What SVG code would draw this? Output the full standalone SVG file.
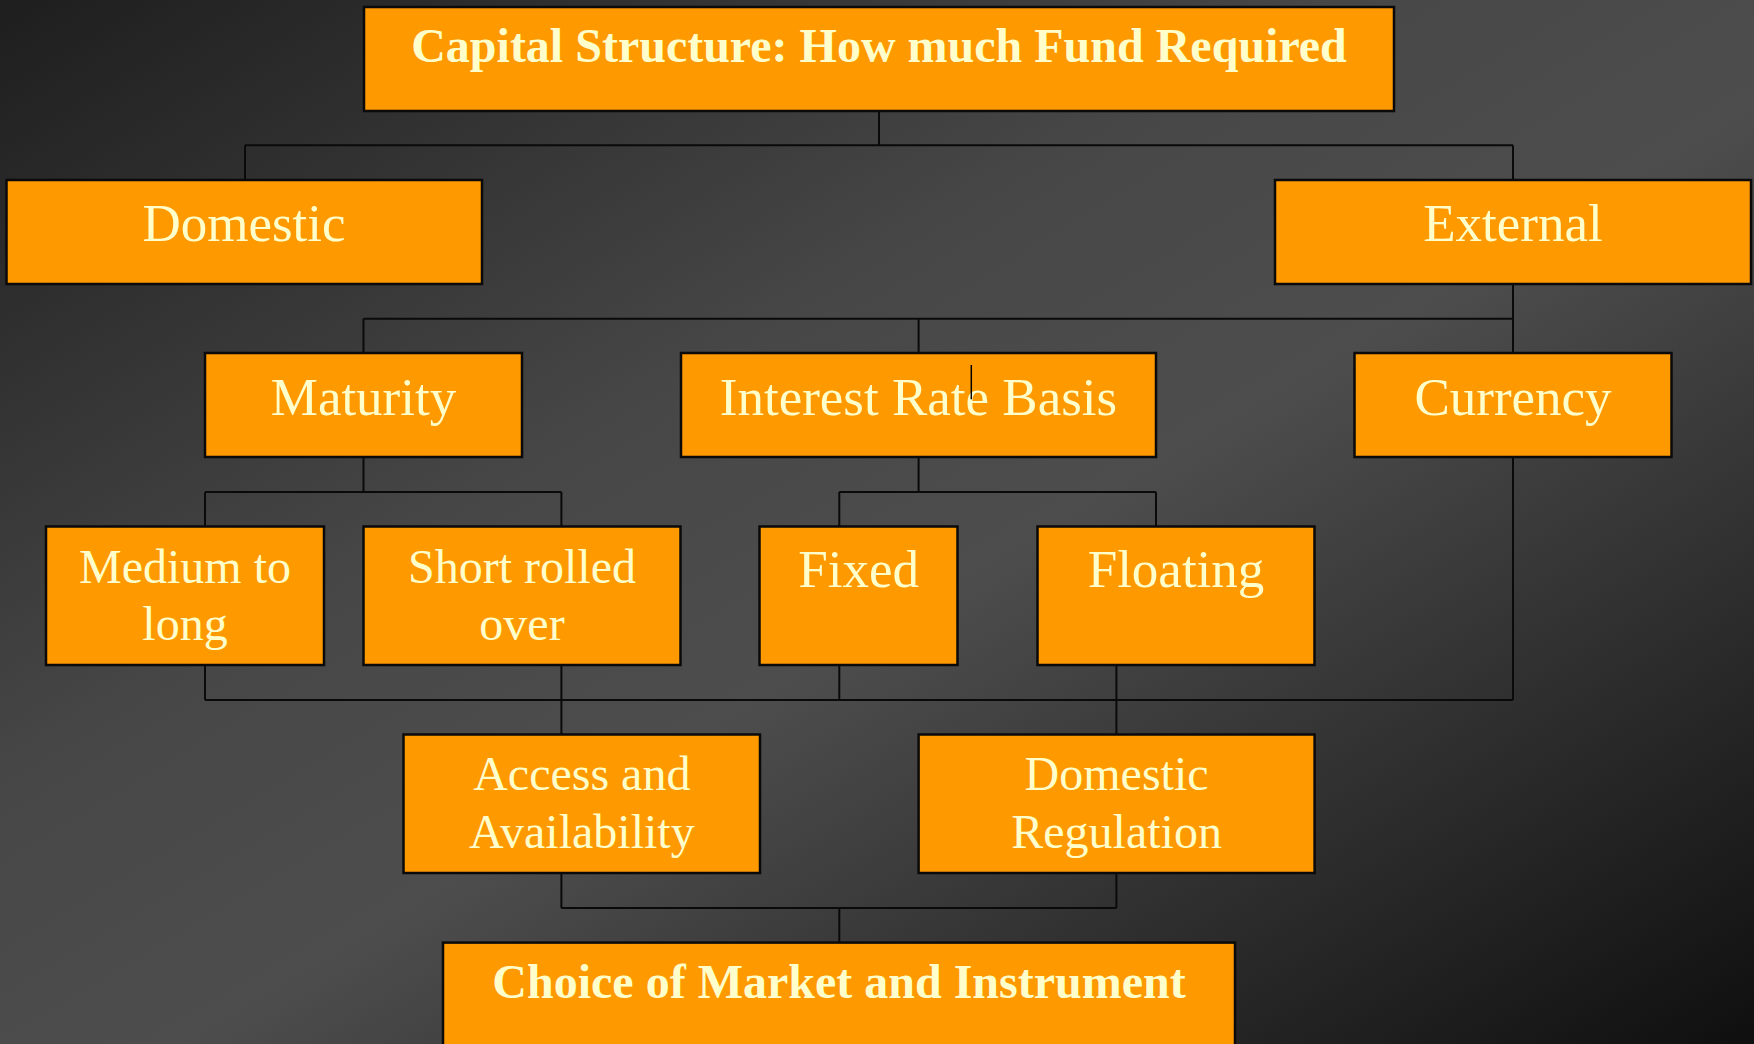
<svg xmlns="http://www.w3.org/2000/svg" width="1754" height="1044" viewBox="0 0 1754 1044">
  <defs>
    <linearGradient id="bg" x1="0" y1="0" x2="1" y2="1">
      <stop offset="0" stop-color="#1e1e1e"/>
      <stop offset="0.38" stop-color="#474747"/>
      <stop offset="0.55" stop-color="#4d4d4d"/>
      <stop offset="1" stop-color="#0f0f0f"/>
    </linearGradient>
    <style>
      .box { fill: #ff9900; stroke: #0a0a0a; stroke-width: 2.5; }
      .lbl { fill: #ffffcc; font-family: "Liberation Serif", "Times New Roman", serif; font-size: 53px; text-anchor: middle; }
      .sm { font-size: 48px; }
      .bold { font-weight: bold; font-size: 48px; }
      .wire { stroke: #0a0a0a; stroke-width: 2; fill: none; }
    </style>
  </defs>

  <rect x="0" y="0" width="1754" height="1044" fill="url(#bg)"/>

  <!-- connectors -->
  <g id="connectors" class="wire">
    <path d="M879 110.7 V145.3 M245 145.3 H1513 M245 145.3 V180 M1513 145.3 V180"/>
    <path d="M1513 284 V318.7 M363.5 318.7 H1513 M363.5 318.7 V353 M918.6 318.7 V353 M1513 318.7 V353"/>
    <path d="M363.5 457 V492 M205 492 H561.4 M205 492 V526.5 M561.4 492 V526.5"/>
    <path d="M918.6 457 V492 M839.3 492 H1156 M839.3 492 V526.5 M1156 492 V526.5"/>
    <path d="M205 665 V700 M205 700 H1513 M561.4 665 V734.5 M839.3 665 V700 M1116.4 665 V734.5 M1513 457 V700"/>
    <path d="M561.4 873 V908 M1116.4 873 V908 M561.4 908 H1116.4 M839.3 908 V942.6"/>
  </g>

  <g id="capital-structure">
    <rect class="box" x="364" y="7" width="1030" height="104"/>
    <text class="lbl bold" x="879" y="62">Capital Structure: How much Fund Required</text>
  </g>

  <g id="domestic">
    <rect class="box" x="6.5" y="180" width="475.5" height="104"/>
    <text class="lbl" x="244" y="241">Domestic</text>
  </g>

  <g id="external">
    <rect class="box" x="1275" y="180" width="476" height="104"/>
    <text class="lbl" x="1513" y="241">External</text>
  </g>

  <g id="maturity">
    <rect class="box" x="205" y="353" width="317" height="104"/>
    <text class="lbl" x="363.5" y="415">Maturity</text>
  </g>

  <g id="interest-rate-basis">
    <rect class="box" x="681" y="353" width="475" height="104"/>
    <text class="lbl" x="918.5" y="415">Interest Rate Basis</text>
    <line x1="971.3" y1="365" x2="971.3" y2="399.3" stroke="#000" stroke-width="1.5"/>
  </g>

  <g id="currency">
    <rect class="box" x="1354.5" y="353" width="317" height="104"/>
    <text class="lbl" x="1513" y="415">Currency</text>
  </g>

  <g id="medium-to-long">
    <rect class="box" x="46" y="526.5" width="278" height="138.5"/>
    <text class="lbl sm" x="185" y="582.5">Medium to</text>
    <text class="lbl sm" x="185" y="640">long</text>
  </g>

  <g id="short-rolled-over">
    <rect class="box" x="363.5" y="526.5" width="317" height="138.5"/>
    <text class="lbl sm" x="522" y="582.5">Short rolled</text>
    <text class="lbl sm" x="522" y="640">over</text>
  </g>

  <g id="fixed">
    <rect class="box" x="759.5" y="526.5" width="198" height="138.5"/>
    <text class="lbl" x="858.7" y="587">Fixed</text>
  </g>

  <g id="floating">
    <rect class="box" x="1037.5" y="526.5" width="277" height="138.5"/>
    <text class="lbl" x="1176" y="587">Floating</text>
  </g>

  <g id="access-and-availability">
    <rect class="box" x="403.5" y="734.5" width="356.5" height="138.5"/>
    <text class="lbl sm" x="581.8" y="790">Access and</text>
    <text class="lbl sm" x="581.8" y="847.6">Availability</text>
  </g>

  <g id="domestic-regulation">
    <rect class="box" x="918.6" y="734.5" width="396" height="138.5"/>
    <text class="lbl sm" x="1116.6" y="790">Domestic</text>
    <text class="lbl sm" x="1116.6" y="847.6">Regulation</text>
  </g>

  <g id="choice-of-market">
    <rect class="box" x="443" y="942.6" width="792" height="140"/>
    <text class="lbl bold" x="839" y="998">Choice of Market and Instrument</text>
  </g>
</svg>
